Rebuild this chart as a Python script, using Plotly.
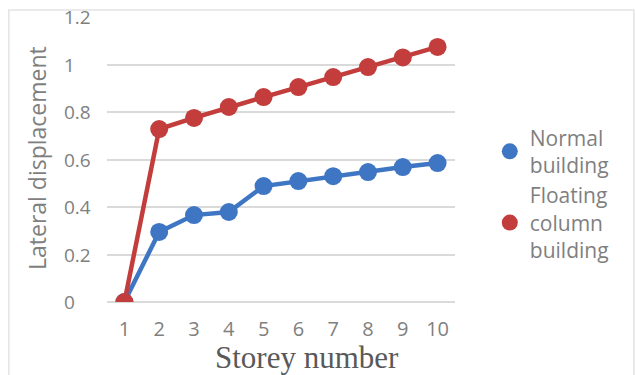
import plotly.graph_objects as go

storeys = ["1", "2", "3", "4", "5", "6", "7", "8", "9", "10"]
normal = [0.0, 0.295, 0.366, 0.379, 0.488, 0.509, 0.530, 0.547, 0.568, 0.585]
floating = [0.0, 0.728, 0.775, 0.821, 0.863, 0.905, 0.947, 0.989, 1.030, 1.074]
y_ticks = [0, 0.2, 0.4, 0.6, 0.8, 1, 1.2]
y_tick_text = ["0", "0.2", "0.4", "0.6", "0.8", "1", "1.2"]

series = [
    ("Normal<br>building", normal, "#3f76c4"),
    ("Floating<br>column<br>building", floating, "#c23d3b"),
]

fig = go.Figure()
for name, vals, col in series:
    fig.add_trace(go.Scatter(x=storeys, y=vals, mode="lines+markers",
                             showlegend=False, hoverinfo="skip",
                             line=dict(color=col, width=4.5),
                             marker=dict(color=col, size=14)))
for name, vals, col in series:
    fig.add_trace(go.Scatter(x=storeys, y=vals, mode="markers", name=name,
                             marker=dict(color=col, size=18)))

annotations = [
    dict(text=t, xref="paper", yref="y", x=(62 - 107) / 348, y=v,
         xanchor="left", yanchor="middle", showarrow=False,
         font=dict(family="Open Sans", size=19, color="#7f7f7f"))
    for v, t in zip(y_ticks, y_tick_text)
]
annotations += [
    dict(text="Storey number", xref="paper", yref="paper",
         x=(307 - 107) / 348, y=-(357 - 302) / 285,
         xanchor="center", yanchor="middle", showarrow=False,
         font=dict(family="Liberation Serif", size=31, color="#595959")),
    dict(text="Lateral displacement", xref="paper", yref="paper",
         x=-(107 - 37) / 348, y=(302 - 158) / 285, textangle=-90,
         xanchor="center", yanchor="middle", showarrow=False,
         font=dict(family="Open Sans", size=23, color="#7f7f7f")),
]

fig.update_layout(
    width=635, height=375,
    margin=dict(l=107, r=180, t=17, b=73),
    paper_bgcolor="white", plot_bgcolor="white",
    font=dict(family="Open Sans", color="#7f7f7f", size=18),
    xaxis=dict(type="category", range=[-0.5, 9.5], showgrid=False,
               showline=False, ticks="", automargin=False,
               ticklabelstandoff=13,
               tickfont=dict(size=20, color="#808080")),
    yaxis=dict(range=[0, 1.2], tickvals=y_ticks, showticklabels=False,
               showgrid=True, gridcolor="#dadada", gridwidth=1.5,
               zeroline=True, zerolinecolor="#dadada", zerolinewidth=1.5,
               showline=False, ticks="", automargin=False),
    legend=dict(x=1.1, y=(302 - 194) / 285, xanchor="left", yanchor="middle",
                xref="paper", font=dict(size=21, color="#7f7f7f"),
                itemsizing="trace", tracegroupgap=0),
    annotations=annotations,
    shapes=[dict(type="rect", xref="paper", yref="paper",
                 x0=-0.282, x1=1.514, y0=-0.35, y1=1.0246,
                 line=dict(color="#e3e3e3", width=1.5), layer="below")],
)
fig.write_html("out.html", post_script="document.body.style.margin='0';",
               config={"displayModeBar": False})
